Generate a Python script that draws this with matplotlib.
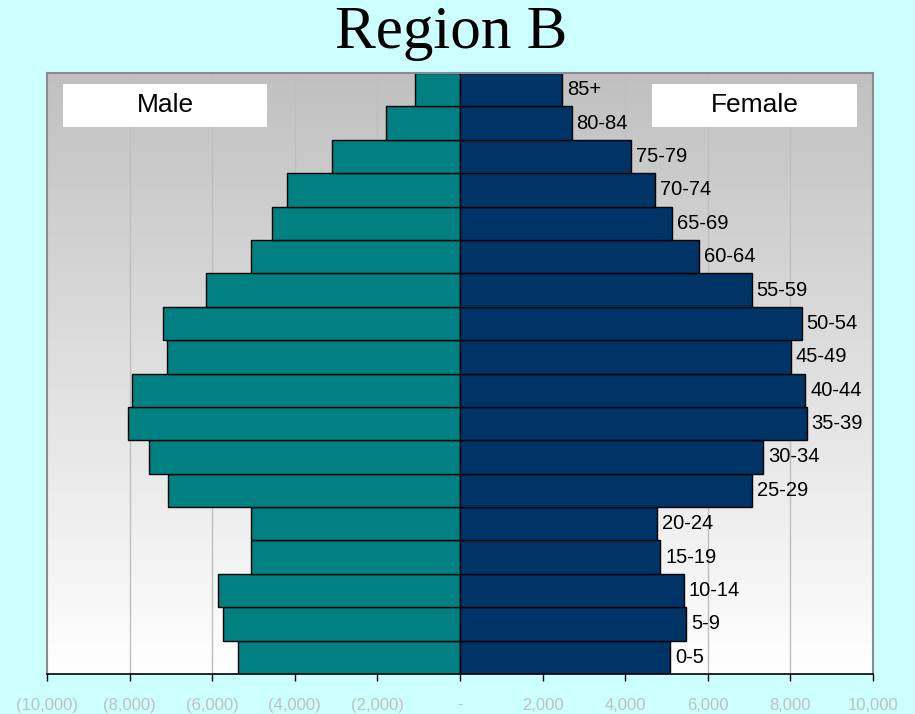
import numpy as np
import matplotlib
matplotlib.use("Agg")
import matplotlib.pyplot as plt
from matplotlib.ticker import FuncFormatter, FixedLocator

# ---- data ----
age_groups = ["0-5", "5-9", "10-14", "15-19", "20-24", "25-29", "30-34", "35-39",
              "40-44", "45-49", "50-54", "55-59", "60-64", "65-69", "70-74",
              "75-79", "80-84", "85+"]
male = [5370, 5730, 5850, 5060, 5060, 7060, 7520, 8030, 7950, 7100, 7200,
        6150, 5050, 4550, 4200, 3100, 1800, 1100]
female = [5080, 5470, 5420, 4850, 4760, 7080, 7340, 8390, 8360, 8010, 8270,
          7060, 5780, 5130, 4730, 4130, 2700, 2470]
x_ticks = [-10000, -8000, -6000, -4000, -2000, 0, 2000, 4000, 6000, 8000, 10000]
title = "Region B"

BG = "#CCFFFF"
MALE_C = "#008080"
FEMALE_C = "#003366"

W, H, DPI = 915, 714, 100
fig = plt.figure(figsize=(W / DPI, H / DPI), dpi=DPI, facecolor=BG)
ax = fig.add_axes([47 / W, 1 - 674 / H, (873 - 47) / W, (674 - 73) / H])
ax.set_facecolor(BG)

n = len(age_groups)
y = np.arange(n)
ax.set_xlim(-10000, 10000)

# gradient background of plot area (grey at top, white at bottom)
# origin="lower": row 0 is drawn at the bottom -> white there
grad = np.linspace(1, 0, 256).reshape(-1, 1)
top = np.array([0xC0, 0xC0, 0xC0]) / 255
bot = np.array([1.0, 1.0, 1.0])
img = top[None, None, :] * (1 - grad[:, :, None]) + bot[None, None, :] * grad[:, :, None]
ax.imshow(img, extent=[-10000, 10000, -0.5, n - 0.5], origin="lower", aspect="auto",
          zorder=0, interpolation="bilinear")
ax.set_ylim(-0.5, n - 0.5)

# vertical gridlines
for t in x_ticks[1:-1]:
    if t != 0:
        ax.axvline(t, color="#BEBEBE", lw=1, zorder=1)

ax.barh(y, [-m for m in male], height=1.0, color=MALE_C, edgecolor="black",
        linewidth=1, zorder=2)
ax.barh(y, female, height=1.0, color=FEMALE_C, edgecolor="black",
        linewidth=1, zorder=2)

for yi, f, lab in zip(y, female, age_groups):
    ax.text(f + 120, yi, lab, va="center", ha="left", fontsize=14.5,
            family="Liberation Sans", color="black", zorder=3)

# spines
for s in ["left", "top", "right"]:
    ax.spines[s].set_color("#8C8C8C")
    ax.spines[s].set_linewidth(1.5)
ax.spines["bottom"].set_color("black")
ax.spines["bottom"].set_linewidth(1.2)
ax.spines["bottom"].set_zorder(5)

ax.set_yticks([])
ax.xaxis.set_major_locator(FixedLocator(x_ticks))


def fmt(v, pos):
    if v == 0:
        return "-"
    if v < 0:
        return "({:,.0f})".format(-v)
    return "{:,.0f}".format(v)


ax.xaxis.set_major_formatter(FuncFormatter(fmt))
ax.tick_params(axis="x", direction="out", length=5, width=1, color="black",
               labelsize=12, labelcolor="#C0C0C0", pad=12)
for lbl in ax.get_xticklabels():
    lbl.set_family("Liberation Sans")

# legend boxes
ax_m = fig.add_axes([63 / W, 1 - 127 / H, (267 - 63) / W, (127 - 84) / H])
ax_m.set_facecolor("white")
ax_m.set_xticks([]); ax_m.set_yticks([])
for s in ax_m.spines.values():
    s.set_visible(False)
ax_m.text(0.5, 0.5, "Male", ha="center", va="center", fontsize=19,
          family="Liberation Sans", transform=ax_m.transAxes)

ax_f = fig.add_axes([652 / W, 1 - 127 / H, (857 - 652) / W, (127 - 84) / H])
ax_f.set_facecolor("white")
ax_f.set_xticks([]); ax_f.set_yticks([])
for s in ax_f.spines.values():
    s.set_visible(False)
ax_f.text(0.5, 0.5, "Female", ha="center", va="center", fontsize=19,
          family="Liberation Sans", transform=ax_f.transAxes)

fig.text(451.5 / W, 1 - 33 / H, title, ha="center", va="center", fontsize=44,
         family="Liberation Serif", color="black")

fig.savefig("out.png", dpi=DPI, facecolor=BG)
